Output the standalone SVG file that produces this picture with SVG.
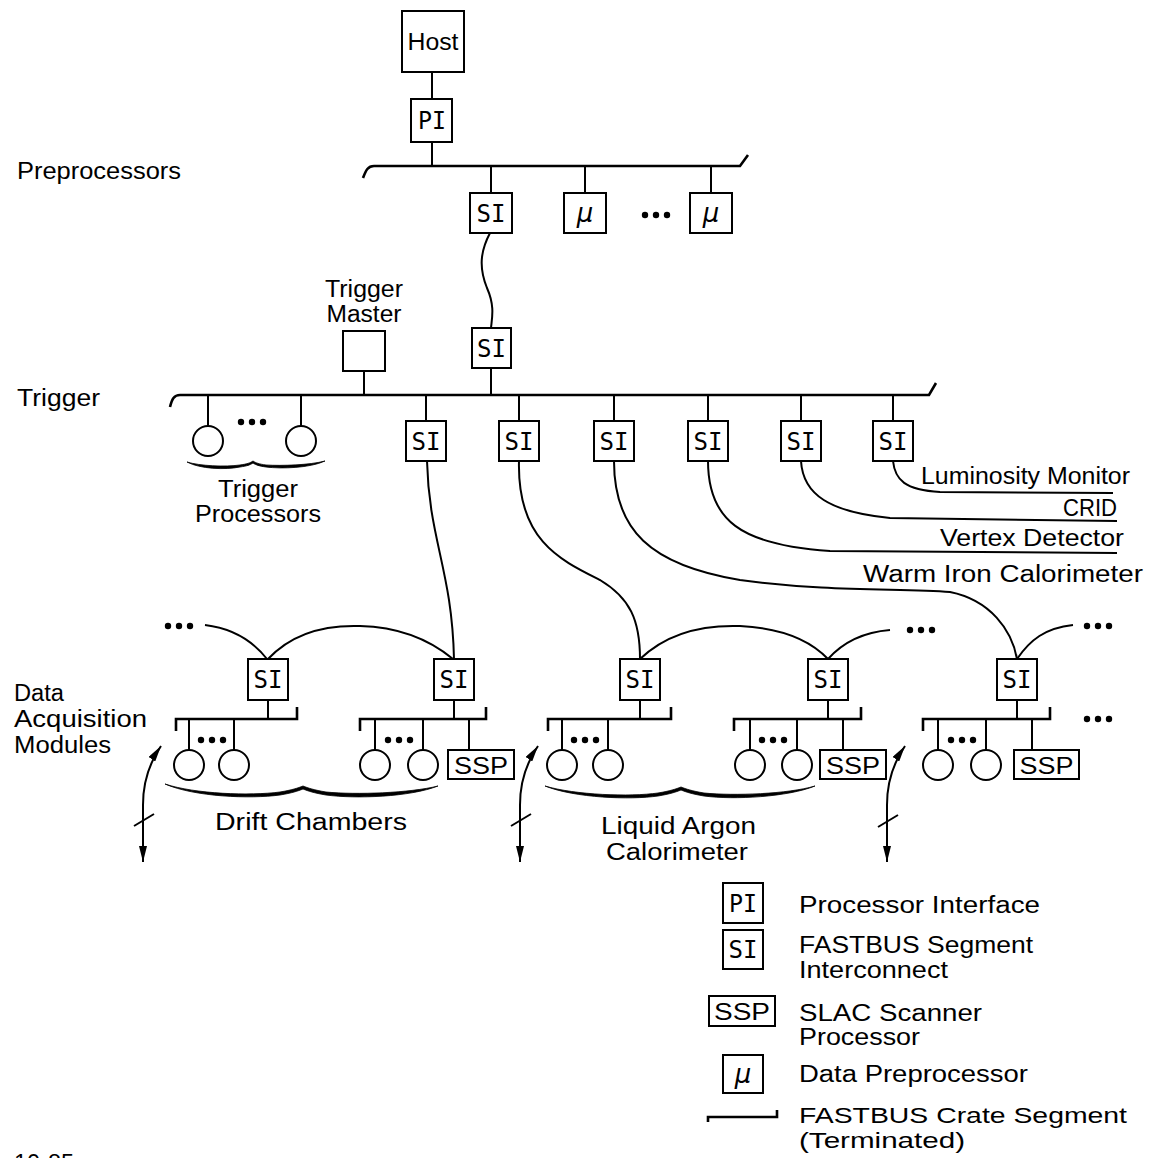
<svg xmlns="http://www.w3.org/2000/svg" width="1169" height="1158" viewBox="0 0 1169 1158">
<style>
.ln{stroke:#000;stroke-width:2;fill:none}
.bus{stroke:#000;stroke-width:2.6;fill:none}
.box{fill:#fff;stroke:#000;stroke-width:2}
.c{fill:#fff;stroke:#000;stroke-width:2}
.t{font-family:"Liberation Sans",Arial,sans-serif;font-size:23px;fill:#000}
.m{font-family:"DejaVu Sans Mono","Liberation Mono",monospace;font-size:24px;fill:#000;text-anchor:middle}
.mu{font-family:"DejaVu Sans",sans-serif;font-style:italic;font-size:26px;fill:#000;text-anchor:middle}
.s{font-family:"Liberation Sans",Arial,sans-serif;font-size:24px;fill:#000;text-anchor:middle}
.mid{text-anchor:middle}
.br{fill:#000;stroke:#000;stroke-width:0.8}
</style>
<defs>
<marker id="ah" viewBox="0 0 16 8" refX="16" refY="4" markerWidth="16" markerHeight="8" markerUnits="userSpaceOnUse" orient="auto-start-reverse"><path d="M0,0 L16,4 L0,8 Z" fill="#000"/></marker>
<g id="dots"><circle cx="0" cy="0" r="3.2"/><circle cx="11" cy="0" r="3.2"/><circle cx="22" cy="0" r="3.2"/></g>
</defs>
<rect width="1169" height="1158" fill="#fff"/>

<!-- section labels -->
<g id="labels">
<text class="t" x="17" y="179" textLength="164" lengthAdjust="spacingAndGlyphs">Preprocessors</text>
<text class="t" x="17" y="406" textLength="83" lengthAdjust="spacingAndGlyphs">Trigger</text>
<text class="t" x="14" y="701" textLength="50" lengthAdjust="spacingAndGlyphs">Data</text>
<text class="t" x="14" y="727" textLength="133" lengthAdjust="spacingAndGlyphs">Acquisition</text>
<text class="t" x="14" y="753" textLength="97" lengthAdjust="spacingAndGlyphs">Modules</text>
<text class="t" x="14" y="1171" textLength="60" lengthAdjust="spacingAndGlyphs">10-85</text>
</g>

<!-- connectors -->
<g id="connectors">
<path class="ln" d="M432,72 L432,99 M432,142 L432,166"/>
<path class="bus" d="M363,178 C366,170 368,166 374,166 L740,166 L748,155"/>
<path class="ln" d="M491,166 V193 M585,166 V193 M711,166 V193"/>
<path class="ln" d="M490,233 C480,252 479,268 487,288 C495,306 492,318 491,328"/>
<path class="bus" d="M170,407 C172,399 174,395 180,395 L929,395 L936,383"/>
<path class="ln" d="M364,371 V395 M491,368 V395"/>
<path class="ln" d="M208,395 V426 M301,395 V426"/>
<path class="ln" d="M426,395 V421 M519,395 V421 M614,395 V421 M708,395 V421 M801,395 V421 M893,395 V421"/>
<path class="ln" d="M427,461 C429,540 452,570 454,659"/>
<path class="ln" d="M519,461 C517,540 560,560 600,580 C630,598 640,620 640,659"/>
<path class="ln" d="M614,461 C614,530 650,565 740,580 C830,592 900,588 950,592 C990,600 1012,630 1017,659"/>
<path class="ln" d="M708,461 C708,520 740,545 830,551 L1117,553"/>
<path class="ln" d="M801,461 C803,495 830,512 890,518 L1117,521"/>
<path class="ln" d="M893,461 C895,480 905,490 940,492 L1113,493"/>
<path class="ln" d="M205,625 C230,628 252,640 267,659"/>
<path class="ln" d="M268,659 C295,630 330,625 360,626 C400,627 430,640 453,659"/>
<path class="ln" d="M640,659 C670,630 710,625 740,626 C780,628 810,640 828,659"/>
<path class="ln" d="M828,659 C845,640 865,632 890,630"/>
<path class="ln" d="M1017,659 C1030,640 1045,628 1073,625"/>
<path class="bus" d="M176,731 V719 H297 V707"/>
<path class="bus" d="M360,731 V719 H486 V707"/>
<path class="bus" d="M548,731 V719 H671 V707"/>
<path class="bus" d="M734,731 V719 H861 V707"/>
<path class="bus" d="M923,731 V719 H1050 V707"/>
<path class="ln" d="M268,700 V719 M454,700 V719 M640,700 V719 M828,700 V719 M1017,700 V719"/>
<path class="ln" d="M189,719 V750 M234,719 V750 M375,719 V750 M423,719 V750 M469,719 V750 M562,719 V750 M608,719 V750 M750,719 V750 M797,719 V750 M843,719 V750 M938,719 V750 M986,719 V750 M1032,719 V750"/>
<path class="ln" d="M143,862 L143,805 C143,780 150,762 161,746" marker-start="url(#ah)" marker-end="url(#ah)"/>
<path class="ln" d="M520,862 L520,805 C520,780 527,762 538,746" marker-start="url(#ah)" marker-end="url(#ah)"/>
<path class="ln" d="M887,862 L887,805 C887,780 894,762 905,746" marker-start="url(#ah)" marker-end="url(#ah)"/>
<path class="ln" d="M134,826 L154,814 M511,826 L531,814 M878,827 L898,815"/>
</g>

<g id="ellipses" fill="#000">
<use href="#dots" x="645" y="215"/>
<use href="#dots" x="241" y="422"/>
<use href="#dots" x="168" y="626"/>
<use href="#dots" x="910" y="630"/>
<use href="#dots" x="1087" y="626"/>
<use href="#dots" x="1087" y="719"/>
<use href="#dots" x="201" y="740"/>
<use href="#dots" x="388" y="740"/>
<use href="#dots" x="574" y="740"/>
<use href="#dots" x="762" y="740"/>
<use href="#dots" x="951" y="740"/>
</g>

<g id="host"><rect class="box" x="402" y="11" width="62" height="61"/><text class="t mid" x="433" y="50" textLength="51" lengthAdjust="spacingAndGlyphs">Host</text></g>
<g id="pi"><rect class="box" x="411" y="99" width="41" height="43"/><text class="m" x="432" y="129" textLength="28" lengthAdjust="spacingAndGlyphs">PI</text></g>
<g id="si-pre"><rect class="box" x="470" y="193" width="42" height="40"/><text class="m" x="491" y="222" textLength="29" lengthAdjust="spacingAndGlyphs">SI</text></g>
<g id="mu1"><rect class="box" x="564" y="193" width="42" height="40"/><text class="mu" x="585" y="222">μ</text></g>
<g id="mu2"><rect class="box" x="690" y="193" width="42" height="40"/><text class="mu" x="711" y="222">μ</text></g>

<g id="trigger-master"><rect class="box" x="343" y="331" width="42" height="40"/>
<text class="t mid" x="364" y="297" textLength="78" lengthAdjust="spacingAndGlyphs">Trigger</text>
<text class="t mid" x="364" y="322" textLength="75" lengthAdjust="spacingAndGlyphs">Master</text></g>
<g id="si-trig"><rect class="box" x="472" y="328" width="39" height="40"/><text class="m" x="491.5" y="357" textLength="29" lengthAdjust="spacingAndGlyphs">SI</text></g>

<g id="trigger-processors">
<circle class="c" cx="208" cy="441" r="15"/><circle class="c" cx="301" cy="441" r="15"/>
<path class="br" d="M187,462 C200,469 225,470 240,467 C247,466 250,465 253,463 C256,465 259,466 266,467 C282,469 310,468 325,461 C310,465 282,466 266,465 C259,464 256,463 253,461 C250,463 247,464 240,465 C225,467 200,466 187,462 Z"/>
<text class="t mid" x="258" y="497" textLength="80" lengthAdjust="spacingAndGlyphs">Trigger</text>
<text class="t mid" x="258" y="522" textLength="126" lengthAdjust="spacingAndGlyphs">Processors</text>
</g>

<g id="si-t1"><rect class="box" x="406" y="421" width="40" height="40"/><text class="m" x="426" y="450" textLength="29" lengthAdjust="spacingAndGlyphs">SI</text></g>
<g id="si-t2"><rect class="box" x="499" y="421" width="40" height="40"/><text class="m" x="519" y="450" textLength="29" lengthAdjust="spacingAndGlyphs">SI</text></g>
<g id="si-t3"><rect class="box" x="594" y="421" width="40" height="40"/><text class="m" x="614" y="450" textLength="29" lengthAdjust="spacingAndGlyphs">SI</text></g>
<g id="si-t4"><rect class="box" x="688" y="421" width="40" height="40"/><text class="m" x="708" y="450" textLength="29" lengthAdjust="spacingAndGlyphs">SI</text></g>
<g id="si-t5"><rect class="box" x="781" y="421" width="40" height="40"/><text class="m" x="801" y="450" textLength="29" lengthAdjust="spacingAndGlyphs">SI</text></g>
<g id="si-t6"><rect class="box" x="873" y="421" width="40" height="40"/><text class="m" x="893" y="450" textLength="29" lengthAdjust="spacingAndGlyphs">SI</text></g>

<g id="detectors">
<text class="t" x="921" y="484" textLength="209" lengthAdjust="spacingAndGlyphs">Luminosity Monitor</text>
<text class="t" x="1063" y="516" textLength="54" lengthAdjust="spacingAndGlyphs">CRID</text>
<text class="t" x="940" y="546" textLength="184" lengthAdjust="spacingAndGlyphs">Vertex Detector</text>
<text class="t" x="863" y="582" textLength="280" lengthAdjust="spacingAndGlyphs">Warm Iron Calorimeter</text>
</g>

<g id="daq-si1"><rect class="box" x="248" y="659" width="40" height="41"/><text class="m" x="268" y="688" textLength="29" lengthAdjust="spacingAndGlyphs">SI</text></g>
<g id="daq-si2"><rect class="box" x="434" y="659" width="40" height="41"/><text class="m" x="454" y="688" textLength="29" lengthAdjust="spacingAndGlyphs">SI</text></g>
<g id="daq-si3"><rect class="box" x="620" y="659" width="40" height="41"/><text class="m" x="640" y="688" textLength="29" lengthAdjust="spacingAndGlyphs">SI</text></g>
<g id="daq-si4"><rect class="box" x="808" y="659" width="40" height="41"/><text class="m" x="828" y="688" textLength="29" lengthAdjust="spacingAndGlyphs">SI</text></g>
<g id="daq-si5"><rect class="box" x="997" y="659" width="40" height="41"/><text class="m" x="1017" y="688" textLength="29" lengthAdjust="spacingAndGlyphs">SI</text></g>

<g id="modules">
<circle class="c" cx="189" cy="765" r="15"/><circle class="c" cx="234" cy="765" r="15"/>
<circle class="c" cx="375" cy="765" r="15"/><circle class="c" cx="423" cy="765" r="15"/>
<circle class="c" cx="562" cy="765" r="15"/><circle class="c" cx="608" cy="765" r="15"/>
<circle class="c" cx="750" cy="765" r="15"/><circle class="c" cx="797" cy="765" r="15"/>
<circle class="c" cx="938" cy="765" r="15"/><circle class="c" cx="986" cy="765" r="15"/>
</g>
<g id="ssp1"><rect class="box" x="448" y="750" width="66" height="29"/><text class="s" x="481" y="774" textLength="54" lengthAdjust="spacingAndGlyphs">SSP</text></g>
<g id="ssp2"><rect class="box" x="820" y="750" width="66" height="29"/><text class="s" x="853" y="774" textLength="54" lengthAdjust="spacingAndGlyphs">SSP</text></g>
<g id="ssp3"><rect class="box" x="1014" y="750" width="65" height="29"/><text class="s" x="1046.5" y="774" textLength="54" lengthAdjust="spacingAndGlyphs">SSP</text></g>

<g id="drift-chambers">
<path class="br" d="M165,784 C195,797 250,799 280,795 C292,793 298,791 303,789 C308,791 314,793 326,795 C356,799 410,797 438,786 C410,793 356,795 326,792 C314,790 308,788 303,786 C298,788 292,790 280,792 C250,796 195,794 165,784 Z"/>
<text class="t" x="215" y="830" textLength="192" lengthAdjust="spacingAndGlyphs">Drift Chambers</text>
</g>
<g id="liquid-argon">
<path class="br" d="M545,786 C575,798 630,800 658,796 C670,794 676,792 681,790 C686,792 692,794 704,796 C734,800 788,797 815,786 C788,794 734,796 704,793 C692,791 686,789 681,787 C676,789 670,791 658,793 C630,797 575,795 545,786 Z"/>
<text class="t" x="601" y="834" textLength="155" lengthAdjust="spacingAndGlyphs">Liquid Argon</text>
<text class="t" x="606" y="860" textLength="142" lengthAdjust="spacingAndGlyphs">Calorimeter</text>
</g>

<g id="legend-pi"><rect class="box" x="723" y="883" width="40" height="40"/><text class="m" x="743" y="912" textLength="28" lengthAdjust="spacingAndGlyphs">PI</text>
<text class="t" x="799" y="913" textLength="241" lengthAdjust="spacingAndGlyphs">Processor Interface</text></g>
<g id="legend-si"><rect class="box" x="723" y="930" width="40" height="39"/><text class="m" x="743" y="958" textLength="29" lengthAdjust="spacingAndGlyphs">SI</text>
<text class="t" x="799" y="953" textLength="234" lengthAdjust="spacingAndGlyphs">FASTBUS Segment</text>
<text class="t" x="799" y="978" textLength="149" lengthAdjust="spacingAndGlyphs">Interconnect</text></g>
<g id="legend-ssp"><rect class="box" x="709" y="996" width="66" height="30"/><text class="s" x="742" y="1020" textLength="56" lengthAdjust="spacingAndGlyphs">SSP</text>
<text class="t" x="799" y="1021" textLength="183" lengthAdjust="spacingAndGlyphs">SLAC Scanner</text>
<text class="t" x="799" y="1045" textLength="121" lengthAdjust="spacingAndGlyphs">Processor</text></g>
<g id="legend-mu"><rect class="box" x="723" y="1055" width="40" height="38"/><text class="mu" x="743" y="1083">μ</text>
<text class="t" x="799" y="1082" textLength="229" lengthAdjust="spacingAndGlyphs">Data Preprocessor</text></g>
<g id="legend-crate"><path class="bus" d="M708,1122 V1117 H777 V1110"/>
<text class="t" x="799" y="1123" style="font-size:22px" textLength="328" lengthAdjust="spacingAndGlyphs">FASTBUS Crate Segment</text>
<text class="t" x="799" y="1148" style="font-size:22px" textLength="166" lengthAdjust="spacingAndGlyphs">(Terminated)</text></g>
</svg>
